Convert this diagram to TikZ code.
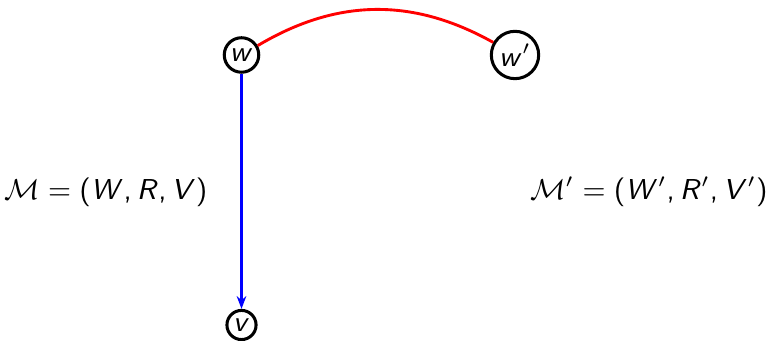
\documentclass[tikz,border=0pt]{standalone}
\usetikzlibrary{arrows.meta}

% sans serif math, beamer-like
\SetSymbolFont{operators}{normal}{OT1}{cmss}{m}{n}
\SetSymbolFont{letters}{normal}{OT1}{cmss}{m}{sl}
\mathcode`,="602C

\tikzset{
  world/.style={draw, circle, line width=0.95pt, inner sep=0.9pt},
  every node/.style={font=\fontsize{9.2}{11}\selectfont},
}

\begin{document}
\begin{tikzpicture}[x=0.3125pt, y=0.3125pt]

	\useasboundingbox (0,0) rectangle (767,341);

	% Rows
	\def\top{286}
	\def\bot{16}

	% Worlds
	\node[world] (w) at (241.5, \top) {$w$};
	\node[world] (wp) at (515, \top) {$w'$};
	\node[world] (v) at (241.5, \bot) {$v$};

	% Models
	\node (m) at (106, 149) {$\mathcal{M} = (W, R, V)$};
	\node (mp) at (649, 149) {$\mathcal{M}' = (W', R', V')$};

	% Relations
	\draw[red, line width=0.9pt] (w) to[bend left=30] (wp);
	\draw[blue, line width=0.9pt, -{Stealth[length=4pt]}] (w) -- (v);

\end{tikzpicture}
\end{document}
